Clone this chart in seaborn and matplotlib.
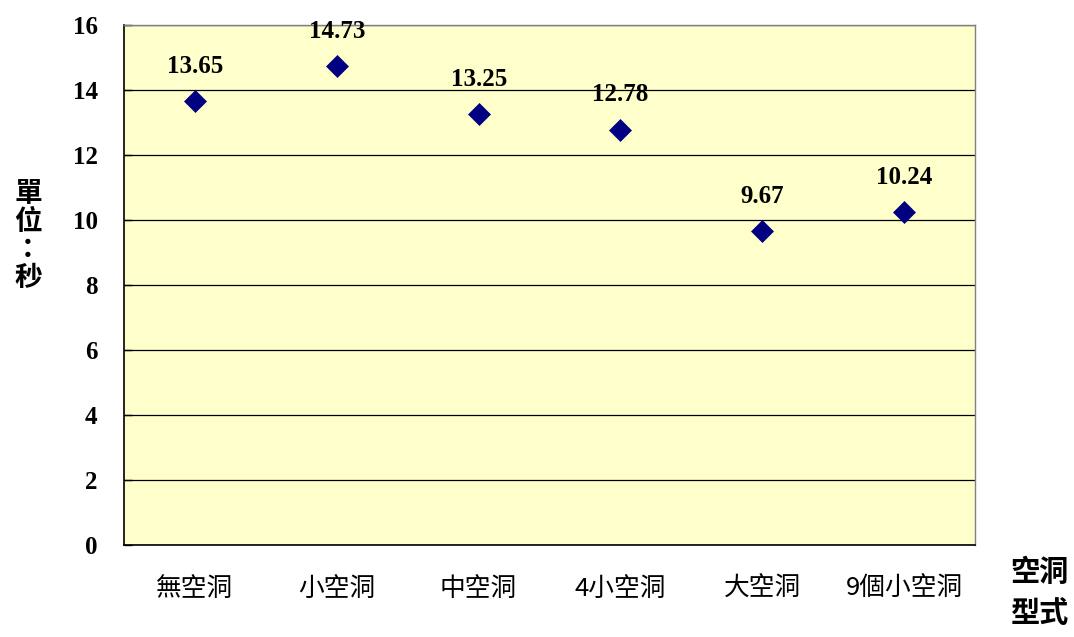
import matplotlib
matplotlib.use("Agg")
import matplotlib.pyplot as plt
import seaborn as sns
import pandas as pd
from matplotlib.ticker import FixedLocator

categories = ["無空洞", "小空洞", "中空洞", "4小空洞", "大空洞", "9個小空洞"]
times = [13.65, 14.73, 13.25, 12.78, 9.67, 10.24]
y_ticks = [0, 2, 4, 6, 8, 10, 12, 14, 16]

df = pd.DataFrame({"type": categories, "sec": times})
df["pos"] = range(len(df))

sns.set_style("white")
plt.rcParams['font.family'] = ['Noto Sans CJK TC', 'DejaVu Sans']

fig = plt.figure(figsize=(10.74, 6.37), dpi=100)
ax = fig.add_axes([0.1155, 0.1444, 0.7924, 0.8163])
ax.set_facecolor("#FFFFCC")

sns.scatterplot(data=df, x="pos", y="sec", marker="D", s=125, color="#000080",
                edgecolor="#000080", linewidth=0.5, ax=ax, zorder=3, legend=False)

for p, v in zip(df["pos"], df["sec"]):
    ax.annotate(f"{v:.2f}", (p, v), xytext=(0, 25), textcoords="offset points",
                ha="center", va="center", fontsize=18, fontweight="bold",
                family="Liberation Serif", color="black")

ax.set_xlim(-0.5, len(categories) - 0.5)
ax.set_ylim(0, 16)
ax.set_yticks(y_ticks)
ax.set_yticklabels([str(t) for t in y_ticks], family="Liberation Serif",
                   fontweight="bold", fontsize=18)
ax.set_xticks(df["pos"])
ax.set_xticklabels(categories, fontsize=18.5, fontweight="medium")
ax.xaxis.set_minor_locator(FixedLocator([i + 0.5 for i in range(len(categories) - 1)]))
ax.tick_params(axis="x", which="major", length=0, pad=22, labelcolor="black")
ax.tick_params(axis="x", which="minor", direction="in", length=6, width=1, color="black")
ax.tick_params(axis="y", direction="in", length=6, width=1, color="black", pad=19,
               left=True, labelcolor="black")

ax.grid(axis="y", color="black", linewidth=0.9)
ax.set_axisbelow(True)
for side in ["left", "bottom"]:
    ax.spines[side].set_color("black")
    ax.spines[side].set_linewidth(1.2)
for side in ["top", "right"]:
    ax.spines[side].set_color("#808080")
    ax.spines[side].set_linewidth(1.0)

ax.set_xlabel("")
ax.set_ylabel("")
fig.text(0.026, 0.63, "單\n位\n：\n秒", ha="center", va="center", fontsize=20,
         fontweight="bold", linespacing=1.0, color="black")
fig.text(0.968, 0.07, "空洞\n型式", ha="center", va="center", fontsize=21,
         fontweight="bold", linespacing=1.45, color="black")

fig.savefig("out.png", dpi=100)
